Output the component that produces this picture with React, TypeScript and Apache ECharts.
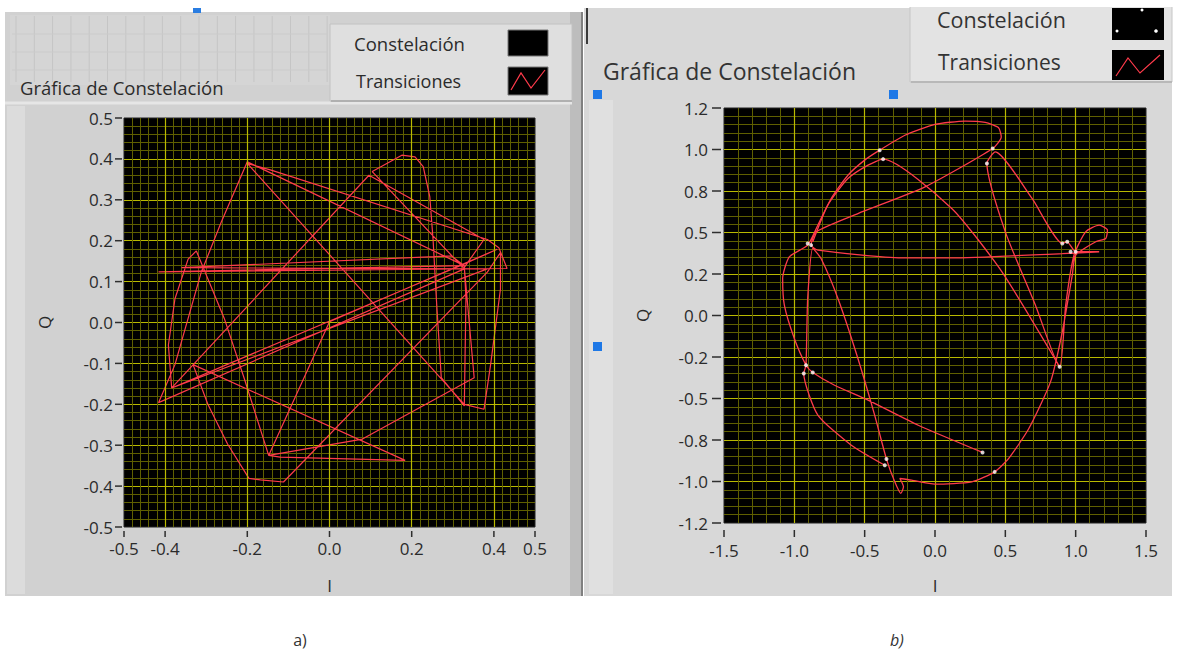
import React, { useEffect, useRef } from 'react';
import * as echarts from 'echarts';

const W = 1177;
const H = 659;

// ---------- Panel a) ----------
const xTicksA = [-0.5, -0.4, -0.2, 0, 0.2, 0.4, 0.5];
const yTicksA = [-0.5, -0.4, -0.3, -0.2, -0.1, 0, 0.1, 0.2, 0.3, 0.4, 0.5];
const xMajorA = [-0.4, -0.2, 0, 0.2, 0.4];
const constA: number[][] = [];
const transA: number[][] = [
  [0.328, 0.139], [-0.2, 0.393], [-0.264, 0.244], [-0.312, 0.123], [-0.344, 0.01], [-0.376, -0.103],
  [-0.416, -0.196], [0.328, 0.131], [0.104, 0.369], [0.176, 0.409], [0.208, 0.405], [0.228, 0.381],
  [0.244, 0.308], [0.252, 0.203], [0.26, 0.058], [0.272, -0.135], [0.328, -0.204], [0.332, 0.058],
  [0.328, 0.139], [-0.416, 0.124], [0.432, 0.132], [0.412, 0.183], [0.384, 0.203], [-0.144, 0.373],
  [-0.2, 0.389], [0.328, -0.2], [0.376, -0.212], [0.392, -0.103], [0.416, 0.082], [0.416, 0.171],
  [0.384, 0.123], [-0.112, -0.39], [-0.168, -0.385], [-0.196, -0.381], [-0.248, -0.297], [-0.296, -0.2],
  [-0.332, -0.103], [0.184, -0.337], [-0.12, -0.329], [-0.148, -0.325], [0.0, 0.002], [0.408, 0.179],
  [0.328, 0.143], [-0.384, -0.16], [0.096, 0.36], [0.376, 0.203], [0.328, 0.135], [0.352, -0.135],
  [0.08, -0.285], [-0.148, -0.325], [-0.208, -0.135], [-0.256, 0.01], [-0.324, 0.175], [-0.344, 0.155],
  [-0.376, 0.058], [-0.392, -0.055], [-0.384, -0.16], [0.384, 0.131], [-0.36, 0.134], [0.296, 0.163],
  [0.328, 0.139],
];

// ---------- Panel b) ----------
const xTicksB = [-1.5, -1.0, -0.5, 0, 0.5, 1.0, 1.5];
const yTickValuesB = [-1.25, -1.0, -0.75, -0.5, -0.25, 0, 0.25, 0.5, 0.75, 1.0, 1.25];
const yTickLabelsB = ['-1.2', '-1.0', '-0.8', '-0.5', '-0.2', '0.0', '0.2', '0.5', '0.8', '1.0', '1.2'];
const constB: number[][] = [
  [-0.393, 0.996], [-0.369, 0.942], [0.41, 1.006], [0.369, 0.916], [-0.905, 0.434], [-0.881, 0.424],
  [0.905, 0.434], [0.94, 0.444], [0.964, 0.384], [1.0, 0.384], [0.886, -0.309], [-0.917, -0.299],
  [-0.933, -0.349], [-0.869, -0.343], [-0.345, -0.865], [-0.357, -0.902], [0.338, -0.825], [0.424, -0.942],
];
const transB1: number[][] = [
  [0.338, -0.825], [-0.119, -0.661], [-0.476, -0.51], [-0.714, -0.42], [-0.869, -0.343],
  [-0.917, -0.299], [-1.0, -0.139], [-1.071, 0.062], [-1.083, 0.223], [-1.036, 0.353], [-0.905, 0.424],
  [-0.833, 0.544], [-0.738, 0.705], [-0.619, 0.845], [-0.5, 0.936], [-0.393, 0.996],
  [-0.214, 1.086], [0, 1.151], [0.214, 1.171], [0.357, 1.163], [0.452, 1.131], [0.471, 1.076], [0.41, 1.006],
  [-0.071, 0.775], [-0.548, 0.614], [-0.845, 0.504], [-0.881, 0.424],
  [-0.833, 0.394], [-0.238, 0.347], [0.119, 0.347], [0.905, 0.373], [1.167, 0.384],
  [1.0, 0.384], [0.94, 0.444], [0.905, 0.434],
  [0.69, 0.705], [0.429, 0.986], [0.369, 0.916],
  [0.5, 0.504], [0.714, 0.062], [0.886, -0.309],
  [0.929, 0.062], [0.988, 0.363],
  [1.071, 0.504], [1.167, 0.544], [1.226, 0.514], [1.214, 0.464], [1.143, 0.444],
  [1.0, 0.363], [0.976, 0.243], [0.905, -0.098], [0.821, -0.4], [0.667, -0.681], [0.524, -0.861],
  [0.424, -0.942], [0.262, -1.002], [0, -1.016], [-0.167, -0.992], [-0.25, -0.982],
  [-0.224, -1.032], [-0.243, -1.072], [-0.286, -1.002], [-0.345, -0.865],
  [-0.429, -0.6], [-0.548, -0.259], [-0.69, 0.102], [-0.81, 0.343], [-0.869, 0.404],
  [-0.905, 0.102], [-0.917, -0.299], [-0.933, -0.349],
  [-0.833, -0.6], [-0.595, -0.781], [-0.357, -0.902],
];
const transB2: number[][] = [
  [-0.869, 0.444], [-0.762, 0.665], [-0.619, 0.825], [-0.476, 0.906], [-0.369, 0.942],
  [0.119, 0.645], [0.476, 0.263], [0.886, -0.309],
];

const MAJOR = '#b9b900';
const MINOR = '#5f5f00';
const RED = '#ff3b4b';
const FONT = "'Open Sans', 'Noto Sans', sans-serif";
const TXT = '#2b2b2b';
const TICK = '#2e2e2e';

function minorAxis(gridIndex: number, min: number, max: number, interval: number, position: string) {
  return {
    type: 'value', gridIndex, min, max, interval, position,
    axisLine: { show: false }, axisTick: { show: false }, axisLabel: { show: false },
    splitLine: { show: true, showMinLine: false, showMaxLine: false, lineStyle: { color: MINOR, width: 1 } },
  };
}

function findLabel(vals: number[], labels: string[] | null, v: number) {
  const i = vals.findIndex((t) => Math.abs(t - v) < 1e-6);
  if (i < 0) return '';
  return labels ? labels[i] : vals[i].toFixed(1);
}

function staticGraphics(): any[] {
  const headerLines: any[] = [];
  for (let i = 0; i < 18; i++) {
    headerLines.push({
      type: 'line', z: -8, silent: true,
      shape: { x1: 16 + i * 18.3, y1: 16, x2: 16 + i * 18.3, y2: 82 },
      style: { stroke: '#c5c5c5', lineWidth: 1 },
    });
  }
  [34, 52, 70].forEach((y) => headerLines.push({
    type: 'line', z: -8, silent: true,
    shape: { x1: 12, y1: y, x2: 328, y2: y }, style: { stroke: '#cbcbcb', lineWidth: 1 },
  }));

  return [
    // left panel
    { type: 'rect', z: -10, silent: true, shape: { x: 5, y: 12, width: 578, height: 584 }, style: { fill: '#d1d1d1' } },
    { type: 'rect', z: -9, silent: true, shape: { x: 10, y: 15, width: 320, height: 70 }, style: { fill: '#d5d5d5' } },
    ...headerLines,
    { type: 'rect', z: -9, silent: true, shape: { x: 7, y: 106, width: 18, height: 488 }, style: { fill: '#dcdcdc' } },
    { type: 'line', z: -8, silent: true, shape: { x1: 5, y1: 103, x2: 572, y2: 103 }, style: { stroke: '#e6e6e6', lineWidth: 3 } },
    { type: 'rect', z: -9, silent: true, shape: { x: 570, y: 12, width: 13, height: 584 }, style: { fill: '#bdbdbd' } },
    { type: 'line', z: -8, silent: true, shape: { x1: 582, y1: 12, x2: 582, y2: 596 }, style: { stroke: '#6c6c6c', lineWidth: 1.5 } },
    { type: 'rect', z: -7, silent: true, shape: { x: 330, y: 24, width: 242, height: 77 }, style: { fill: '#dfdfdf', stroke: '#c2c2c2', lineWidth: 1 } },
    { type: 'line', z: -6, silent: true, shape: { x1: 331, y1: 101, x2: 572, y2: 101 }, style: { stroke: '#b0b0b0', lineWidth: 2 } },
    { type: 'rect', z: 5, silent: true, shape: { x: 193, y: 8, width: 8, height: 5 }, style: { fill: '#2a7de1' } },
    { type: 'text', z: 10, x: 354, y: 43, style: { text: 'Constelación', fill: TXT, fontSize: 18.5, fontFamily: FONT, textVerticalAlign: 'middle' } },
    { type: 'text', z: 10, x: 356, y: 81, style: { text: 'Transiciones', fill: TXT, fontSize: 18, fontFamily: FONT, textVerticalAlign: 'middle' } },
    { type: 'rect', z: 10, silent: true, shape: { x: 508, y: 30, width: 40, height: 26 }, style: { fill: '#000', stroke: '#777', lineWidth: 1 } },
    { type: 'rect', z: 10, silent: true, shape: { x: 508, y: 67, width: 40, height: 28 }, style: { fill: '#000', stroke: '#777', lineWidth: 1 } },
    { type: 'polyline', z: 11, silent: true, shape: { points: [[511, 90], [521, 73], [531, 88], [545, 70]] }, style: { stroke: RED, lineWidth: 1.2, fill: null } },
    { type: 'text', z: 10, x: 20, y: 87, style: { text: 'Gráfica de Constelación', fill: TXT, fontSize: 18.5, fontFamily: FONT, textVerticalAlign: 'middle' } },

    // right panel
    { type: 'rect', z: -10, silent: true, shape: { x: 584, y: 8, width: 588, height: 588 }, style: { fill: '#d8d8d8' } },
    { type: 'rect', z: -9, silent: true, shape: { x: 589, y: 100, width: 24, height: 494 }, style: { fill: '#e0e0e0' } },
    { type: 'line', z: -8, silent: true, shape: { x1: 587, y1: 8, x2: 587, y2: 44 }, style: { stroke: '#3a3a3a', lineWidth: 2 } },
    { type: 'rect', z: -7, silent: true, shape: { x: 910, y: 5, width: 262, height: 77 }, style: { fill: '#e3e3e3', stroke: '#c6c6c6', lineWidth: 1 } },
    { type: 'line', z: -6, silent: true, shape: { x1: 911, y1: 82, x2: 1172, y2: 82 }, style: { stroke: '#b8b8b8', lineWidth: 2 } },
    { type: 'rect', z: 20, silent: true, shape: { x: 0, y: 0, width: W, height: 7 }, style: { fill: '#ffffff' } },
    { type: 'text', z: 10, x: 937, y: 19, style: { text: 'Constelación', fill: '#333', fontSize: 21.5, fontFamily: FONT, textVerticalAlign: 'middle' } },
    { type: 'text', z: 10, x: 938, y: 62, style: { text: 'Transiciones', fill: '#333', fontSize: 21, fontFamily: FONT, textVerticalAlign: 'middle' } },
    { type: 'rect', z: 10, silent: true, shape: { x: 1112, y: 8, width: 52, height: 32 }, style: { fill: '#000' } },
    { type: 'circle', z: 11, silent: true, shape: { cx: 1117, cy: 31, r: 1.5 }, style: { fill: '#fff' } },
    { type: 'circle', z: 11, silent: true, shape: { cx: 1156, cy: 31, r: 1.8 }, style: { fill: '#fff' } },
    { type: 'circle', z: 11, silent: true, shape: { cx: 1142, cy: 10, r: 1.5 }, style: { fill: '#fff' } },
    { type: 'rect', z: 10, silent: true, shape: { x: 1112, y: 50, width: 52, height: 30 }, style: { fill: '#000' } },
    { type: 'polyline', z: 11, silent: true, shape: { points: [[1116, 76], [1128, 58], [1140, 73], [1160, 55]] }, style: { stroke: RED, lineWidth: 1.2, fill: null } },
    { type: 'text', z: 10, x: 603, y: 71, style: { text: 'Gráfica de Constelación', fill: '#333', fontSize: 23, fontFamily: FONT, textVerticalAlign: 'middle' } },
    { type: 'rect', z: 10, silent: true, shape: { x: 593, y: 90, width: 9, height: 9 }, style: { fill: '#1e78e6' } },
    { type: 'rect', z: 10, silent: true, shape: { x: 889, y: 90, width: 9, height: 9 }, style: { fill: '#1e78e6' } },
    { type: 'rect', z: 10, silent: true, shape: { x: 593, y: 342, width: 9, height: 9 }, style: { fill: '#1e78e6' } },

    // captions
    { type: 'text', z: 10, x: 300, y: 640, style: { text: 'a)', fill: '#333', fontSize: 16, fontFamily: FONT, textAlign: 'center', textVerticalAlign: 'middle' } },
    { type: 'text', z: 10, x: 897, y: 640, style: { text: 'b)', fill: '#333', fontSize: 16, fontStyle: 'italic', fontFamily: FONT, textAlign: 'center', textVerticalAlign: 'middle' } },
  ];
}

function buildOption(): any {
  const labelStyle = { color: TXT, fontSize: 17, fontFamily: FONT };
  const nameStyle = { color: TXT, fontSize: 17, fontFamily: FONT };

  return {
    animation: false,
    backgroundColor: 'transparent',
    graphic: { elements: staticGraphics() },
    grid: [
      { left: 124, top: 118, width: 411, height: 409, show: true, backgroundColor: '#000', borderColor: '#222', borderWidth: 1, containLabel: false },
      { left: 724, top: 108, width: 422, height: 415, show: true, backgroundColor: '#000', borderColor: '#222', borderWidth: 1, containLabel: false },
    ],
    xAxis: [
      minorAxis(0, -0.5, 0.5, 0.02, 'bottom'),
      {
        type: 'value', gridIndex: 0, min: -0.5, max: 0.5, interval: 0.1, position: 'bottom', offset: 4,
        axisLine: { show: false }, axisTick: { show: false },
        axisLabel: { ...labelStyle, margin: 9, customValues: xTicksA, formatter: (v: number) => findLabel(xTicksA, null, v) },
        splitLine: { show: false },
        name: 'I', nameLocation: 'middle', nameGap: 46, nameTextStyle: nameStyle,
      },
      minorAxis(1, -1.5, 1.5, 0.1, 'bottom'),
      {
        type: 'value', gridIndex: 1, min: -1.5, max: 1.5, interval: 0.5, position: 'bottom', offset: 6,
        axisLine: { show: false }, axisTick: { show: false },
        axisLabel: { ...labelStyle, margin: 13, formatter: (v: number) => findLabel(xTicksB, null, v) },
        splitLine: { show: true, showMinLine: false, showMaxLine: false, lineStyle: { color: MAJOR, width: 1.2 } },
        name: 'I', nameLocation: 'middle', nameGap: 48, nameTextStyle: nameStyle,
      },
    ],
    yAxis: [
      minorAxis(0, -0.5, 0.5, 0.02, 'left'),
      {
        type: 'value', gridIndex: 0, min: -0.5, max: 0.5, interval: 0.1, position: 'left', offset: 2,
        axisLine: { show: false }, axisTick: { show: false },
        axisLabel: { ...labelStyle, margin: 9, formatter: (v: number) => findLabel(yTicksA, null, v) },
        splitLine: { show: true, showMinLine: false, showMaxLine: false, lineStyle: { color: MAJOR, width: 1.2 } },
        name: 'Q', nameLocation: 'middle', nameGap: 69, nameRotate: 90, nameTextStyle: nameStyle,
      },
      minorAxis(1, -1.25, 1.25, 0.05, 'left'),
      {
        type: 'value', gridIndex: 1, min: -1.25, max: 1.25, interval: 0.25, position: 'left', offset: 3,
        axisLine: { show: false }, axisTick: { show: false },
        axisLabel: { ...labelStyle, margin: 13, formatter: (v: number) => findLabel(yTickValuesB, yTickLabelsB, v) },
        splitLine: { show: true, showMinLine: false, showMaxLine: false, lineStyle: { color: MAJOR, width: 1.2 } },
        name: 'Q', nameLocation: 'middle', nameGap: 70, nameRotate: 90, nameTextStyle: nameStyle,
      },
    ],
    series: [
      {
        name: 'gridA', type: 'scatter', xAxisIndex: 0, yAxisIndex: 0, data: [[0, 0]], symbolSize: 0, silent: true, z: 1,
        markLine: {
          silent: true, symbol: ['none', 'none'], label: { show: false },
          lineStyle: { color: MAJOR, width: 1.2, type: 'solid' },
          data: xMajorA.map((v) => ({ xAxis: v })),
        },
      },
      {
        name: 'Transiciones', type: 'line', xAxisIndex: 0, yAxisIndex: 0, data: transA,
        showSymbol: false, symbol: 'none', lineStyle: { color: RED, width: 1.2 }, z: 3, silent: true,
      },
      {
        name: 'Constelación', type: 'scatter', xAxisIndex: 0, yAxisIndex: 0, data: constA,
        symbolSize: 4, itemStyle: { color: '#fff' }, z: 4,
      },
      {
        name: 'Transiciones', type: 'line', xAxisIndex: 2, yAxisIndex: 2, data: transB1, smooth: 0.2,
        showSymbol: false, symbol: 'none', lineStyle: { color: RED, width: 1.3 }, z: 3, silent: true,
      },
      {
        name: 'Transiciones', type: 'line', xAxisIndex: 2, yAxisIndex: 2, data: transB2, smooth: 0.2,
        showSymbol: false, symbol: 'none', lineStyle: { color: RED, width: 1.3 }, z: 3, silent: true,
      },
      {
        name: 'Constelación', type: 'scatter', xAxisIndex: 2, yAxisIndex: 2, data: constB,
        symbolSize: 4, itemStyle: { color: '#ffffff' }, z: 5, silent: true,
      },
    ],
  };
}

// Axis tick marks placed through the chart's own scales (convertToPixel)
function tickGraphics(chart: any): any[] {
  const out: any[] = [];
  const hTick = (axisIndex: number, vals: number[], x1: number, x2: number) => {
    vals.forEach((v) => {
      const y = chart.convertToPixel({ yAxisIndex: axisIndex }, v);
      if (typeof y === 'number' && isFinite(y)) {
        out.push({ type: 'line', z: 12, silent: true, shape: { x1, y1: y, x2, y2: y }, style: { stroke: TICK, lineWidth: 1.5 } });
      }
    });
  };
  const vTick = (axisIndex: number, vals: number[], y1: number, y2: number) => {
    vals.forEach((v) => {
      const x = chart.convertToPixel({ xAxisIndex: axisIndex }, v);
      if (typeof x === 'number' && isFinite(x)) {
        out.push({ type: 'line', z: 12, silent: true, shape: { x1: x, y1, x2: x, y2 }, style: { stroke: TICK, lineWidth: 1.5 } });
      }
    });
  };
  hTick(1, yTicksA, 115, 122);
  vTick(1, xTicksA, 531, 537);
  hTick(3, yTickValuesB, 712, 721);
  vTick(3, xTicksB, 530, 537);
  return out;
}

export default function App() {
  const ref = useRef<HTMLDivElement>(null);
  useEffect(() => {
    if (!ref.current) return;
    const chart = echarts.init(ref.current, null, { renderer: 'svg' });
    chart.setOption(buildOption());
    try {
      const ticks = tickGraphics(chart);
      chart.setOption({ graphic: { elements: [...staticGraphics(), ...ticks] } });
    } catch (e) {
      // keep chart without extra ticks
    }
    return () => chart.dispose();
  }, []);
  return (
    <div
      ref={ref}
      style={{ position: 'absolute', left: 0, top: 0, width: W, height: H, background: '#ffffff' }}
    />
  );
}
